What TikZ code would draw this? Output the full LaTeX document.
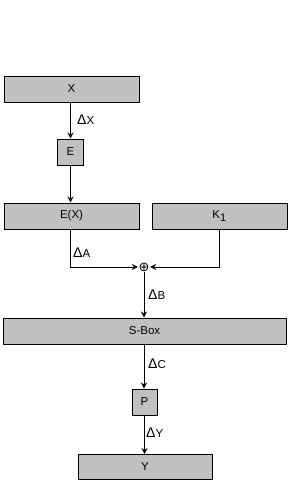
\documentclass[tikz,border=0pt]{standalone}
\usepackage{fontspec}
\setmainfont{Liberation Sans}
\newfontfamily\dejavu{DejaVu Sans}
\usetikzlibrary{arrows.meta}
\definecolor{boxgray}{RGB}{192,192,192}
\newcommand{\dlt}{{\fontsize{14}{14}\selectfont Δ}}
\begin{document}
\begin{tikzpicture}[x=1pt,y=-1pt,
  font=\fontsize{11.5}{13}\selectfont,
  blk/.style={draw=black,line width=1pt,fill=boxgray,inner sep=0pt,minimum height=26pt},
  conn/.style={line width=1pt,-{Stealth[length=6pt,width=6pt,inset=2pt]}},
  lbl/.style={anchor=west,inner sep=0pt}]
\useasboundingbox (0,0) rectangle (289,480);
\node[blk,minimum width=135pt] (X) at (71.5,89) {X};
\node[blk,minimum width=26pt] (E) at (70.5,152) {E};
\node[blk,minimum width=135pt] (EX) at (71.5,216) {E(X)};
\node[blk,minimum width=135pt] (K) at (219.5,216) {K\textsubscript{\fontsize{11}{11}\selectfont 1}};
\node[inner sep=0.5pt,font=\dejavu\fontsize{13}{13}\selectfont] (xor) at (144,267) {⊕};
\node[blk,minimum width=283pt] (S) at (144.5,331) {S-Box};
\node[blk,minimum width=25pt] (P) at (144.5,402) {P};
\node[blk,minimum width=134pt,minimum height=25pt] (Y) at (145,467) {Y};
\draw[conn] (X.south -| E) -- (E.north);
\draw[conn] (E.south) -- (EX.north -| E);
\draw[conn] (EX.south -| E) |- (xor.west);
\draw[conn] (K.south) |- (xor.east);
\draw[conn] (xor.south) -- (S.north -| xor);
\draw[conn] (S.south -| xor) -- (P.north -| xor);
\draw[conn] (P.south) -- (Y.north -| P);
\node[lbl] (lx) at (77,120) {\dlt X};
\node[lbl] (la) at (73,253) {\dlt A};
\node[lbl] (lb) at (148,295) {\dlt B};
\node[lbl] (lc) at (148,364) {\dlt C};
\node[lbl] (ly) at (146,433) {\dlt Y};
\end{tikzpicture}
\end{document}
